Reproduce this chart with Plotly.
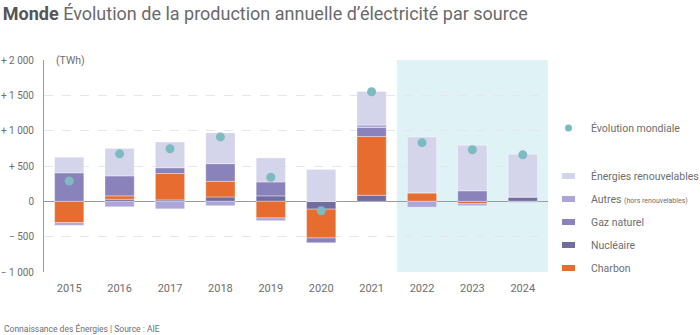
import plotly.graph_objects as go

years = [2015, 2016, 2017, 2018, 2019, 2020, 2021, 2022, 2023, 2024]
nucleaire = [0, 29, 20, 62, 77, -110, 86, 0, 0, 62]
charbon = [-302, 48, 374, 221, -235, -408, 831, 120, -34, 0]
gaz = [403, 283, 81, 250, 197, -68, 129, 0, 149, 0]
autres = [-38, -77, -106, -62, -39, 0, 34, -82, -28, -15]
renouvelables = [221, 389, 365, 437, 340, 451, 475, 792, 643, 605]
evolution = [288, 672, 744, 912, 341, -134, 1550, 830, 730, 658]

ytick_vals = [2000, 1500, 1000, 500, 0, -500, -1000]
ytick_text = ["+ 2 000", "+ 1 500", "+ 1 000", "+ 500", "0", "− 500", "− 1 000"]

series = [
    ("Nucléaire", nucleaire, "#736ca1"),
    ("Charbon", charbon, "#e66c30"),
    ("Gaz naturel", gaz, "#8a82bb"),
    ("Autres", autres, "#aba5da"),
    ("Énergies renouvelables", renouvelables, "#d4d4ea"),
]
legend_order = [
    ("Énergies renouvelables", "#d4d4ea"),
    ("Autres <span style='font-size:7px'>(hors renouvelables)</span>", "#aba5da"),
    ("Gaz naturel", "#8a82bb"),
    ("Nucléaire", "#736ca1"),
    ("Charbon", "#e66c30"),
]
dot_color = "#7cbbc1"
font = "Roboto"
grey = "#6e6e6e"

fig = go.Figure()
for name, vals, col in series:
    fig.add_trace(go.Bar(x=years, y=vals, name=name, marker_color=col,
                         marker_line=dict(color="rgba(255,255,255,0.35)", width=1),
                         showlegend=False))
fig.add_trace(go.Scatter(x=years, y=evolution, mode="markers", name="Évolution mondiale",
                         marker=dict(color=dot_color, size=9), showlegend=False))

W, H = 700, 335
L, R, T, B = 44, 152, 60, 63

def px_to_paper_x(px):
    return (px - L) / (W - L - R)

def px_to_paper_y(py):
    return (H - B - py) / (H - T - B)

shapes = [dict(type="rect", xref="x", yref="y", x0=2021.5, x1=2024.5, y0=-1000, y1=2000,
               fillcolor="#dff3f6", line_width=0, layer="below")]
annotations = []

# legend (manual)
def legend_item(py, label, col, kind):
    if kind == "dot":
        shapes.append(dict(type="circle", xref="paper", yref="paper",
                           x0=px_to_paper_x(565), x1=px_to_paper_x(572),
                           y0=px_to_paper_y(py + 3.5), y1=px_to_paper_y(py - 3.5),
                           fillcolor=col, line_width=0))
    else:
        shapes.append(dict(type="rect", xref="paper", yref="paper",
                           x0=px_to_paper_x(562), x1=px_to_paper_x(575),
                           y0=px_to_paper_y(py + 3), y1=px_to_paper_y(py - 3),
                           fillcolor=col, line_width=0))
    annotations.append(dict(xref="paper", yref="paper", x=px_to_paper_x(589),
                            y=px_to_paper_y(py), text=label, showarrow=False,
                            xanchor="left", yanchor="middle",
                            font=dict(family=font, size=10.5, color=grey)))

legend_item(128, "Évolution mondiale", dot_color, "dot")
for i, (lab, col) in enumerate(legend_order):
    legend_item(176 + i * 23, lab, col, "bar")

annotations.append(dict(xref="paper", yref="paper", x=px_to_paper_x(54), y=px_to_paper_y(60),
                        text="(TWh)", showarrow=False, xanchor="left", yanchor="middle",
                        font=dict(family=font, size=10.5, color=grey)))
annotations.append(dict(xref="paper", yref="paper", x=px_to_paper_x(2), y=px_to_paper_y(328),
                        text="Connaissance des Énergies | Source : AIE", showarrow=False,
                        xanchor="left", yanchor="middle",
                        font=dict(family=font, size=8.5, color=grey)))

fig.update_layout(
    width=W, height=H,
    margin=dict(l=L, r=R, t=T, b=B, pad=0, autoexpand=False),
    paper_bgcolor="white", plot_bgcolor="white",
    barmode="relative", bargap=0.42,
    font=dict(family=font, color=grey),
    title=dict(text="<b style='color:#555'>Monde</b> Évolution de la production annuelle d’électricité par source",
               x=0.004, xanchor="left", y=1 - 14 / H, yanchor="middle",
               font=dict(family=font, size=18, color="#6a6a6a")),
    shapes=shapes, annotations=annotations,
    xaxis=dict(range=[2014.5, 2024.5], tickvals=years, ticktext=[str(y) for y in years],
               showgrid=False, zeroline=False, showline=False, ticks="", automargin=False,
               tickfont=dict(family=font, size=11, color=grey), ticklabelstandoff=8),
    yaxis=dict(range=[-1000, 2000], tickvals=ytick_vals, ticktext=ytick_text,
               showgrid=True, gridcolor="#e6e6e6", griddash="dash", gridwidth=1,
               zeroline=True, zerolinecolor="#9a9a9a", zerolinewidth=1, automargin=False,
               showline=True, linecolor="#9a9a9a", linewidth=1, ticks="",
               tickfont=dict(family=font, size=10, color=grey), ticklabelstandoff=7),
)

fig.write_html("out.html")
